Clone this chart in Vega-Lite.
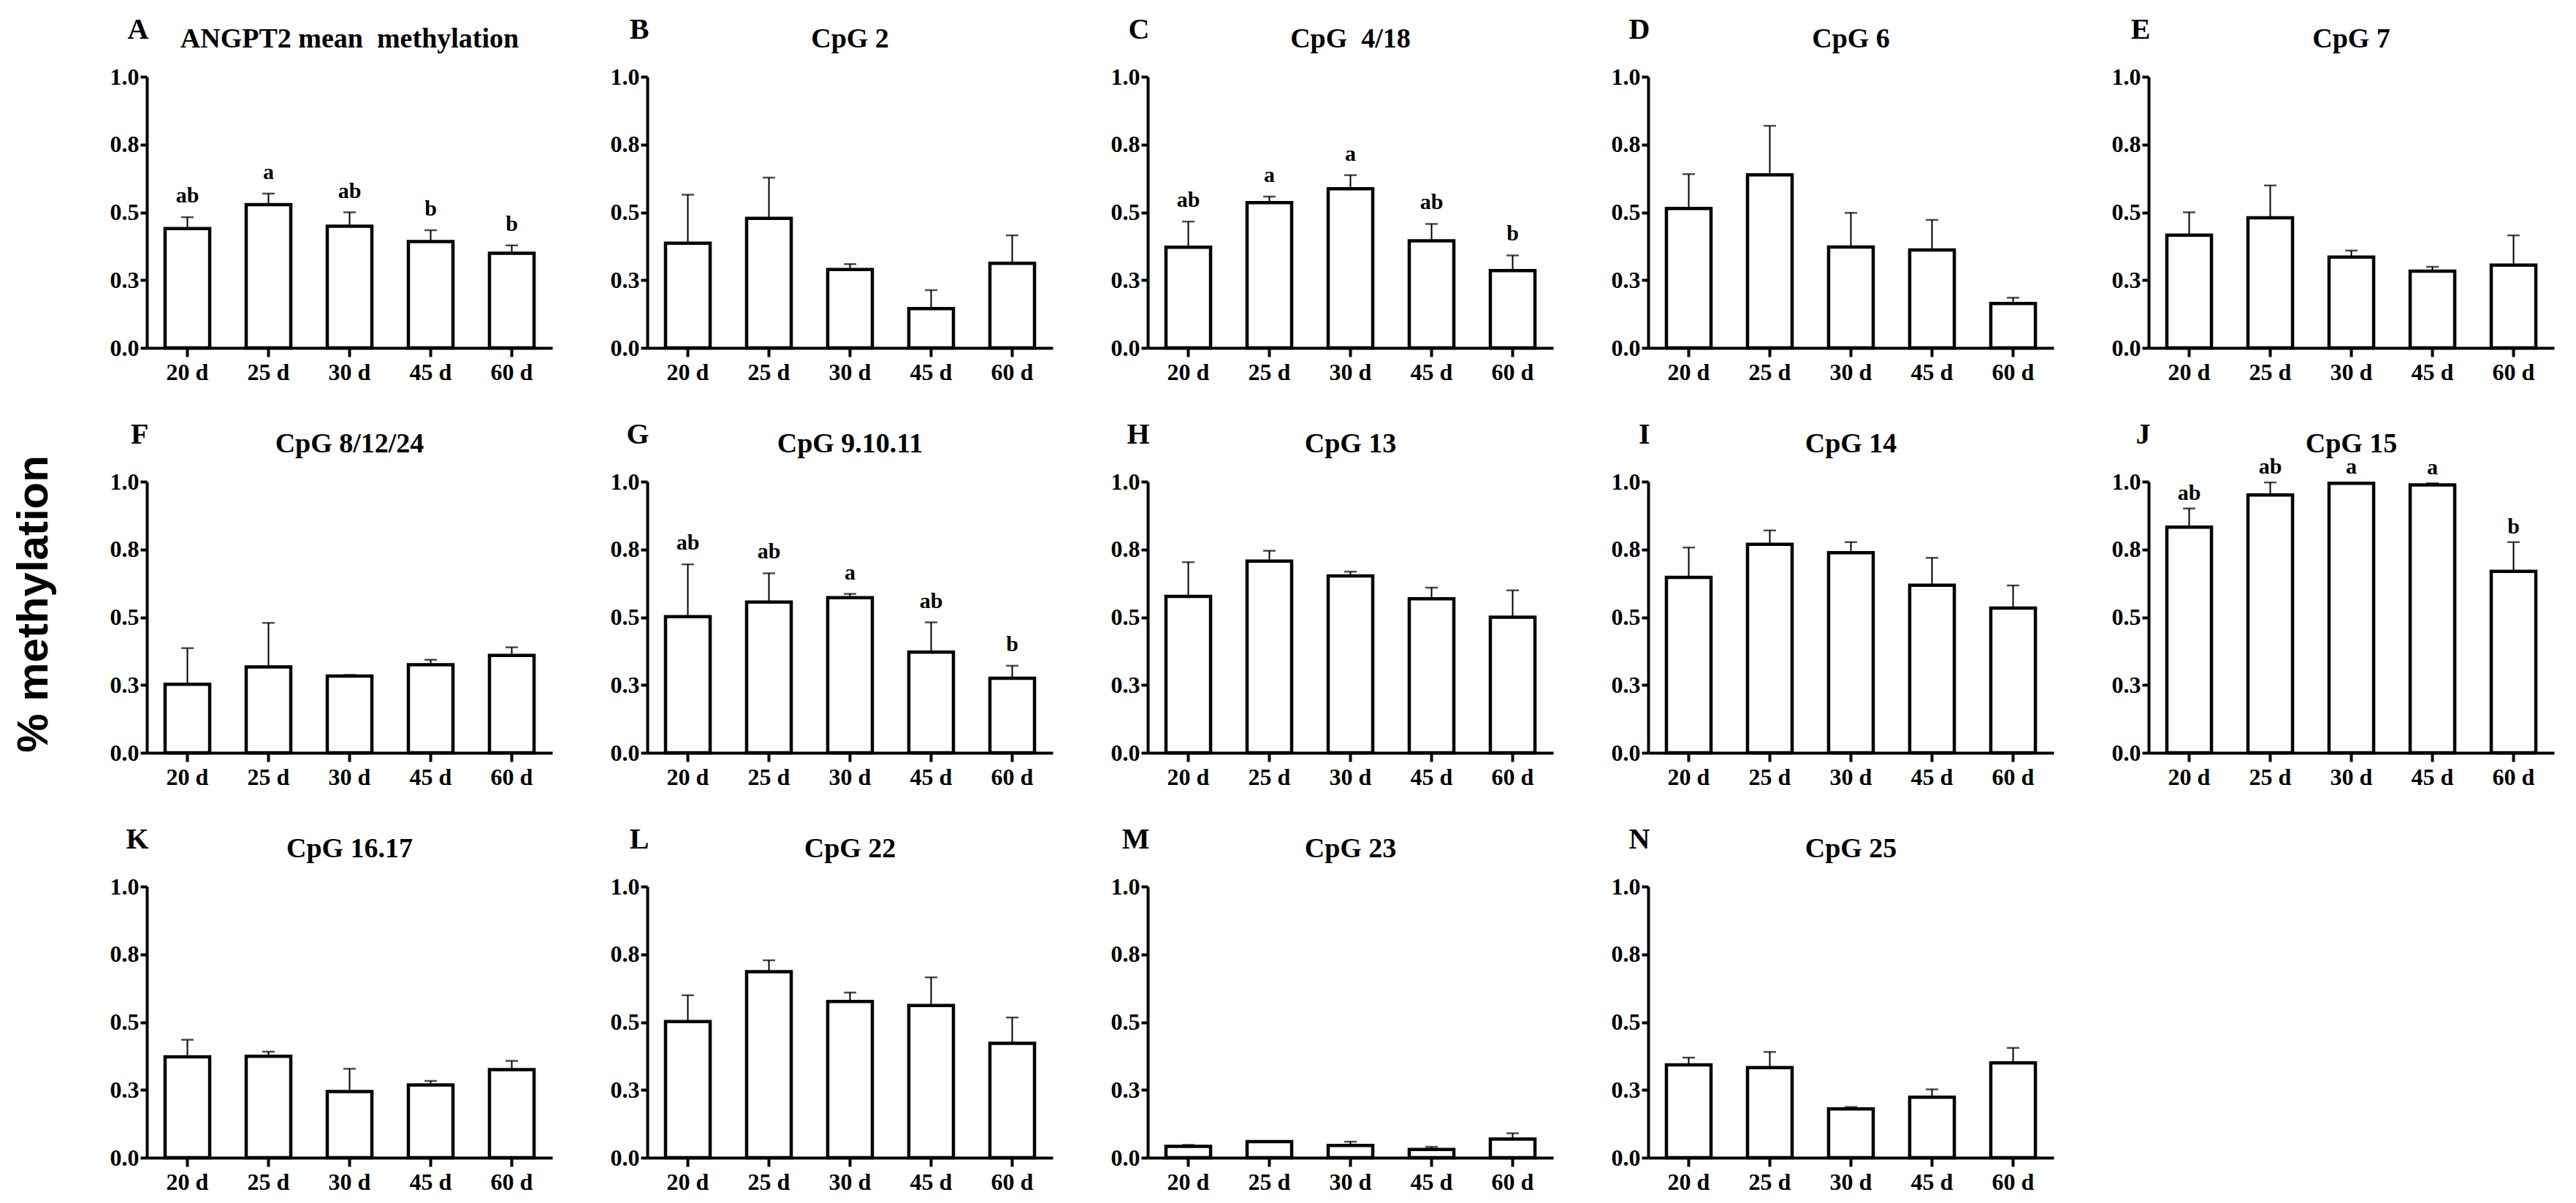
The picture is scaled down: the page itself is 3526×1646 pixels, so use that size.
{
  "$schema": "https://vega.github.io/schema/vega-lite/v6.json",
  "background": "white",
  "padding": {"left": 16, "top": 20, "right": 10, "bottom": 5},
  "title": {"text": "% methylation", "orient": "left", "anchor": "middle", "frame": "bounds", "font": "Liberation Sans", "fontSize": 60, "fontWeight": "bold", "color": "black", "offset": 72},
  "data": {"values": [
    {"p":"A","d":"20 d","m":0.440,"e":0.482,"s":"ab"},{"p":"A","d":"25 d","m":0.528,"e":0.569,"s":"a"},{"p":"A","d":"30 d","m":0.449,"e":0.500,"s":"ab"},{"p":"A","d":"45 d","m":0.392,"e":0.434,"s":"b"},{"p":"A","d":"60 d","m":0.349,"e":0.378,"s":"b"},
    {"p":"B","d":"20 d","m":0.386,"e":0.565},{"p":"B","d":"25 d","m":0.478,"e":0.628},{"p":"B","d":"30 d","m":0.289,"e":0.309},{"p":"B","d":"45 d","m":0.145,"e":0.213},{"p":"B","d":"60 d","m":0.312,"e":0.415},
    {"p":"C","d":"20 d","m":0.371,"e":0.466,"s":"ab"},{"p":"C","d":"25 d","m":0.536,"e":0.558,"s":"a"},{"p":"C","d":"30 d","m":0.587,"e":0.637,"s":"a"},{"p":"C","d":"45 d","m":0.395,"e":0.457,"s":"ab"},{"p":"C","d":"60 d","m":0.285,"e":0.341,"s":"b"},
    {"p":"D","d":"20 d","m":0.514,"e":0.641},{"p":"D","d":"25 d","m":0.638,"e":0.819},{"p":"D","d":"30 d","m":0.372,"e":0.498},{"p":"D","d":"45 d","m":0.361,"e":0.472},{"p":"D","d":"60 d","m":0.164,"e":0.185},
    {"p":"E","d":"20 d","m":0.416,"e":0.500},{"p":"E","d":"25 d","m":0.480,"e":0.599},{"p":"E","d":"30 d","m":0.335,"e":0.359},{"p":"E","d":"45 d","m":0.283,"e":0.299},{"p":"E","d":"60 d","m":0.305,"e":0.415},
    {"p":"F","d":"20 d","m":0.253,"e":0.386},{"p":"F","d":"25 d","m":0.317,"e":0.479},{"p":"F","d":"30 d","m":0.283,"e":0.287},{"p":"F","d":"45 d","m":0.325,"e":0.343},{"p":"F","d":"60 d","m":0.359,"e":0.389},
    {"p":"G","d":"20 d","m":0.502,"e":0.695,"s":"ab"},{"p":"G","d":"25 d","m":0.556,"e":0.662,"s":"ab"},{"p":"G","d":"30 d","m":0.572,"e":0.586,"s":"a"},{"p":"G","d":"45 d","m":0.371,"e":0.481,"s":"ab"},{"p":"G","d":"60 d","m":0.275,"e":0.321,"s":"b"},
    {"p":"H","d":"20 d","m":0.577,"e":0.703},{"p":"H","d":"25 d","m":0.707,"e":0.745},{"p":"H","d":"30 d","m":0.652,"e":0.668},{"p":"H","d":"45 d","m":0.568,"e":0.609},{"p":"H","d":"60 d","m":0.500,"e":0.599},
    {"p":"I","d":"20 d","m":0.647,"e":0.757},{"p":"I","d":"25 d","m":0.769,"e":0.820},{"p":"I","d":"30 d","m":0.738,"e":0.777},{"p":"I","d":"45 d","m":0.618,"e":0.719},{"p":"I","d":"60 d","m":0.534,"e":0.617},
    {"p":"J","d":"20 d","m":0.832,"e":0.901,"s":"ab"},{"p":"J","d":"25 d","m":0.951,"e":0.997,"s":"ab"},{"p":"J","d":"30 d","m":0.994,"e":0.996,"s":"a"},{"p":"J","d":"45 d","m":0.988,"e":0.994,"s":"a"},{"p":"J","d":"60 d","m":0.669,"e":0.777,"s":"b"},
    {"p":"K","d":"20 d","m":0.372,"e":0.435},{"p":"K","d":"25 d","m":0.374,"e":0.391},{"p":"K","d":"30 d","m":0.244,"e":0.328},{"p":"K","d":"45 d","m":0.268,"e":0.283},{"p":"K","d":"60 d","m":0.325,"e":0.357},
    {"p":"L","d":"20 d","m":0.502,"e":0.599},{"p":"L","d":"25 d","m":0.686,"e":0.728},{"p":"L","d":"30 d","m":0.576,"e":0.609},{"p":"L","d":"45 d","m":0.561,"e":0.665},{"p":"L","d":"60 d","m":0.422,"e":0.517},
    {"p":"M","d":"20 d","m":0.042,"e":0.047},{"p":"M","d":"25 d","m":0.059,"e":0.061},{"p":"M","d":"30 d","m":0.045,"e":0.059},{"p":"M","d":"45 d","m":0.030,"e":0.040},{"p":"M","d":"60 d","m":0.069,"e":0.090},
    {"p":"N","d":"20 d","m":0.342,"e":0.369},{"p":"N","d":"25 d","m":0.332,"e":0.390},{"p":"N","d":"30 d","m":0.180,"e":0.187},{"p":"N","d":"45 d","m":0.223,"e":0.252},{"p":"N","d":"60 d","m":0.350,"e":0.405}
  ]},
  "columns": 5,
  "spacing": {"row": 183, "column": 130},
  "bounds": "flush",
  "concat": [
    {"title":"ANGPT2 mean\u00a0 methylation","width":555,"height":371,"transform":[{"filter":"datum.p==='A'"}],"encoding":{"x":{"field":"d","type":"nominal","sort":null,"title":null}},"layer":[
      {"mark":{"type":"bar","fill":"white","stroke":"black","strokeWidth":4.5},"encoding":{"y":{"field":"m","type":"quantitative","scale":{"domain":[0,1],"nice":false},"axis":{"title":"A","values":[0,0.25,0.5,0.75,1],"format":".1f"}}}},
      {"mark":{"type":"rule","color":"black","strokeWidth":2},"encoding":{"y":{"field":"m","type":"quantitative"},"y2":{"field":"e"}}},
      {"mark":{"type":"tick","color":"black","thickness":2.5,"size":17},"encoding":{"y":{"field":"e","type":"quantitative"}}},
      {"mark":{"type":"text","font":"Liberation Serif","fontSize":30,"fontWeight":"bold","color":"black","baseline":"alphabetic","dy":-20},"encoding":{"y":{"field":"e","type":"quantitative"},"text":{"field":"s"}}}
    ]},
    {"title":"CpG 2","width":555,"height":371,"transform":[{"filter":"datum.p==='B'"}],"encoding":{"x":{"field":"d","type":"nominal","sort":null,"title":null}},"layer":[
      {"mark":{"type":"bar","fill":"white","stroke":"black","strokeWidth":4.5},"encoding":{"y":{"field":"m","type":"quantitative","scale":{"domain":[0,1],"nice":false},"axis":{"title":"B","values":[0,0.25,0.5,0.75,1],"format":".1f"}}}},
      {"mark":{"type":"rule","color":"black","strokeWidth":2},"encoding":{"y":{"field":"m","type":"quantitative"},"y2":{"field":"e"}}},
      {"mark":{"type":"tick","color":"black","thickness":2.5,"size":17},"encoding":{"y":{"field":"e","type":"quantitative"}}}
    ]},
    {"title":"CpG\u00a0 4/18","width":555,"height":371,"transform":[{"filter":"datum.p==='C'"}],"encoding":{"x":{"field":"d","type":"nominal","sort":null,"title":null}},"layer":[
      {"mark":{"type":"bar","fill":"white","stroke":"black","strokeWidth":4.5},"encoding":{"y":{"field":"m","type":"quantitative","scale":{"domain":[0,1],"nice":false},"axis":{"title":"C","values":[0,0.25,0.5,0.75,1],"format":".1f"}}}},
      {"mark":{"type":"rule","color":"black","strokeWidth":2},"encoding":{"y":{"field":"m","type":"quantitative"},"y2":{"field":"e"}}},
      {"mark":{"type":"tick","color":"black","thickness":2.5,"size":17},"encoding":{"y":{"field":"e","type":"quantitative"}}},
      {"mark":{"type":"text","font":"Liberation Serif","fontSize":30,"fontWeight":"bold","color":"black","baseline":"alphabetic","dy":-20},"encoding":{"y":{"field":"e","type":"quantitative"},"text":{"field":"s"}}}
    ]},
    {"title":"CpG 6","width":555,"height":371,"transform":[{"filter":"datum.p==='D'"}],"encoding":{"x":{"field":"d","type":"nominal","sort":null,"title":null}},"layer":[
      {"mark":{"type":"bar","fill":"white","stroke":"black","strokeWidth":4.5},"encoding":{"y":{"field":"m","type":"quantitative","scale":{"domain":[0,1],"nice":false},"axis":{"title":"D","values":[0,0.25,0.5,0.75,1],"format":".1f"}}}},
      {"mark":{"type":"rule","color":"black","strokeWidth":2},"encoding":{"y":{"field":"m","type":"quantitative"},"y2":{"field":"e"}}},
      {"mark":{"type":"tick","color":"black","thickness":2.5,"size":17},"encoding":{"y":{"field":"e","type":"quantitative"}}}
    ]},
    {"title":"CpG 7","width":555,"height":371,"transform":[{"filter":"datum.p==='E'"}],"encoding":{"x":{"field":"d","type":"nominal","sort":null,"title":null}},"layer":[
      {"mark":{"type":"bar","fill":"white","stroke":"black","strokeWidth":4.5},"encoding":{"y":{"field":"m","type":"quantitative","scale":{"domain":[0,1],"nice":false},"axis":{"title":"E","values":[0,0.25,0.5,0.75,1],"format":".1f"}}}},
      {"mark":{"type":"rule","color":"black","strokeWidth":2},"encoding":{"y":{"field":"m","type":"quantitative"},"y2":{"field":"e"}}},
      {"mark":{"type":"tick","color":"black","thickness":2.5,"size":17},"encoding":{"y":{"field":"e","type":"quantitative"}}}
    ]},
    {"title":"CpG 8/12/24","width":555,"height":371,"transform":[{"filter":"datum.p==='F'"}],"encoding":{"x":{"field":"d","type":"nominal","sort":null,"title":null}},"layer":[
      {"mark":{"type":"bar","fill":"white","stroke":"black","strokeWidth":4.5},"encoding":{"y":{"field":"m","type":"quantitative","scale":{"domain":[0,1],"nice":false},"axis":{"title":"F","values":[0,0.25,0.5,0.75,1],"format":".1f"}}}},
      {"mark":{"type":"rule","color":"black","strokeWidth":2},"encoding":{"y":{"field":"m","type":"quantitative"},"y2":{"field":"e"}}},
      {"mark":{"type":"tick","color":"black","thickness":2.5,"size":17},"encoding":{"y":{"field":"e","type":"quantitative"}}}
    ]},
    {"title":"CpG 9.10.11","width":555,"height":371,"transform":[{"filter":"datum.p==='G'"}],"encoding":{"x":{"field":"d","type":"nominal","sort":null,"title":null}},"layer":[
      {"mark":{"type":"bar","fill":"white","stroke":"black","strokeWidth":4.5},"encoding":{"y":{"field":"m","type":"quantitative","scale":{"domain":[0,1],"nice":false},"axis":{"title":"G","values":[0,0.25,0.5,0.75,1],"format":".1f"}}}},
      {"mark":{"type":"rule","color":"black","strokeWidth":2},"encoding":{"y":{"field":"m","type":"quantitative"},"y2":{"field":"e"}}},
      {"mark":{"type":"tick","color":"black","thickness":2.5,"size":17},"encoding":{"y":{"field":"e","type":"quantitative"}}},
      {"mark":{"type":"text","font":"Liberation Serif","fontSize":30,"fontWeight":"bold","color":"black","baseline":"alphabetic","dy":-20},"encoding":{"y":{"field":"e","type":"quantitative"},"text":{"field":"s"}}}
    ]},
    {"title":"CpG 13","width":555,"height":371,"transform":[{"filter":"datum.p==='H'"}],"encoding":{"x":{"field":"d","type":"nominal","sort":null,"title":null}},"layer":[
      {"mark":{"type":"bar","fill":"white","stroke":"black","strokeWidth":4.5},"encoding":{"y":{"field":"m","type":"quantitative","scale":{"domain":[0,1],"nice":false},"axis":{"title":"H","values":[0,0.25,0.5,0.75,1],"format":".1f"}}}},
      {"mark":{"type":"rule","color":"black","strokeWidth":2},"encoding":{"y":{"field":"m","type":"quantitative"},"y2":{"field":"e"}}},
      {"mark":{"type":"tick","color":"black","thickness":2.5,"size":17},"encoding":{"y":{"field":"e","type":"quantitative"}}}
    ]},
    {"title":"CpG 14","width":555,"height":371,"transform":[{"filter":"datum.p==='I'"}],"encoding":{"x":{"field":"d","type":"nominal","sort":null,"title":null}},"layer":[
      {"mark":{"type":"bar","fill":"white","stroke":"black","strokeWidth":4.5},"encoding":{"y":{"field":"m","type":"quantitative","scale":{"domain":[0,1],"nice":false},"axis":{"title":"I","values":[0,0.25,0.5,0.75,1],"format":".1f"}}}},
      {"mark":{"type":"rule","color":"black","strokeWidth":2},"encoding":{"y":{"field":"m","type":"quantitative"},"y2":{"field":"e"}}},
      {"mark":{"type":"tick","color":"black","thickness":2.5,"size":17},"encoding":{"y":{"field":"e","type":"quantitative"}}}
    ]},
    {"title":"CpG 15","width":555,"height":371,"transform":[{"filter":"datum.p==='J'"}],"encoding":{"x":{"field":"d","type":"nominal","sort":null,"title":null}},"layer":[
      {"mark":{"type":"bar","fill":"white","stroke":"black","strokeWidth":4.5},"encoding":{"y":{"field":"m","type":"quantitative","scale":{"domain":[0,1],"nice":false},"axis":{"title":"J","values":[0,0.25,0.5,0.75,1],"format":".1f"}}}},
      {"mark":{"type":"rule","color":"black","strokeWidth":2},"encoding":{"y":{"field":"m","type":"quantitative"},"y2":{"field":"e"}}},
      {"mark":{"type":"tick","color":"black","thickness":2.5,"size":17},"encoding":{"y":{"field":"e","type":"quantitative"}}},
      {"mark":{"type":"text","font":"Liberation Serif","fontSize":30,"fontWeight":"bold","color":"black","baseline":"alphabetic","dy":-12},"encoding":{"y":{"field":"e","type":"quantitative"},"text":{"field":"s"}}}
    ]},
    {"title":"CpG 16.17","width":555,"height":371,"transform":[{"filter":"datum.p==='K'"}],"encoding":{"x":{"field":"d","type":"nominal","sort":null,"title":null}},"layer":[
      {"mark":{"type":"bar","fill":"white","stroke":"black","strokeWidth":4.5},"encoding":{"y":{"field":"m","type":"quantitative","scale":{"domain":[0,1],"nice":false},"axis":{"title":"K","values":[0,0.25,0.5,0.75,1],"format":".1f"}}}},
      {"mark":{"type":"rule","color":"black","strokeWidth":2},"encoding":{"y":{"field":"m","type":"quantitative"},"y2":{"field":"e"}}},
      {"mark":{"type":"tick","color":"black","thickness":2.5,"size":17},"encoding":{"y":{"field":"e","type":"quantitative"}}}
    ]},
    {"title":"CpG 22","width":555,"height":371,"transform":[{"filter":"datum.p==='L'"}],"encoding":{"x":{"field":"d","type":"nominal","sort":null,"title":null}},"layer":[
      {"mark":{"type":"bar","fill":"white","stroke":"black","strokeWidth":4.5},"encoding":{"y":{"field":"m","type":"quantitative","scale":{"domain":[0,1],"nice":false},"axis":{"title":"L","values":[0,0.25,0.5,0.75,1],"format":".1f"}}}},
      {"mark":{"type":"rule","color":"black","strokeWidth":2},"encoding":{"y":{"field":"m","type":"quantitative"},"y2":{"field":"e"}}},
      {"mark":{"type":"tick","color":"black","thickness":2.5,"size":17},"encoding":{"y":{"field":"e","type":"quantitative"}}}
    ]},
    {"title":"CpG 23","width":555,"height":371,"transform":[{"filter":"datum.p==='M'"}],"encoding":{"x":{"field":"d","type":"nominal","sort":null,"title":null}},"layer":[
      {"mark":{"type":"bar","fill":"white","stroke":"black","strokeWidth":4.5},"encoding":{"y":{"field":"m","type":"quantitative","scale":{"domain":[0,1],"nice":false},"axis":{"title":"M","values":[0,0.25,0.5,0.75,1],"format":".1f"}}}},
      {"mark":{"type":"rule","color":"black","strokeWidth":2},"encoding":{"y":{"field":"m","type":"quantitative"},"y2":{"field":"e"}}},
      {"mark":{"type":"tick","color":"black","thickness":2.5,"size":17},"encoding":{"y":{"field":"e","type":"quantitative"}}}
    ]},
    {"title":"CpG 25","width":555,"height":371,"transform":[{"filter":"datum.p==='N'"}],"encoding":{"x":{"field":"d","type":"nominal","sort":null,"title":null}},"layer":[
      {"mark":{"type":"bar","fill":"white","stroke":"black","strokeWidth":4.5},"encoding":{"y":{"field":"m","type":"quantitative","scale":{"domain":[0,1],"nice":false},"axis":{"title":"N","values":[0,0.25,0.5,0.75,1],"format":".1f"}}}},
      {"mark":{"type":"rule","color":"black","strokeWidth":2},"encoding":{"y":{"field":"m","type":"quantitative"},"y2":{"field":"e"}}},
      {"mark":{"type":"tick","color":"black","thickness":2.5,"size":17},"encoding":{"y":{"field":"e","type":"quantitative"}}}
    ]}
  ],
  "config": {
    "view": {"stroke": null},
    "font": "Liberation Serif",
    "title": {"font": "Liberation Serif", "fontSize": 38, "fontWeight": "bold", "color": "black", "frame": "group", "anchor": "middle", "offset": -53},
    "scale": {"bandPaddingInner": 0.45, "bandPaddingOuter": 0.225},
    "axis": {"domainColor": "black", "domainWidth": 4, "tickColor": "black", "tickWidth": 4, "labelColor": "black", "labelFont": "Liberation Serif", "labelFontWeight": "bold", "labelFontSize": 32, "grid": false, "titleColor": "black"},
    "axisX": {"tickSize": 12, "labelAngle": 0, "labelPadding": 6},
    "axisY": {"tickSize": 9, "labelPadding": 2, "titleAngle": 0, "titleAlign": "right", "titleBaseline": "alphabetic", "titleX": 2, "titleY": -53, "titleFont": "Liberation Serif", "titleFontSize": 40, "titleFontWeight": "bold"}
  }
}
